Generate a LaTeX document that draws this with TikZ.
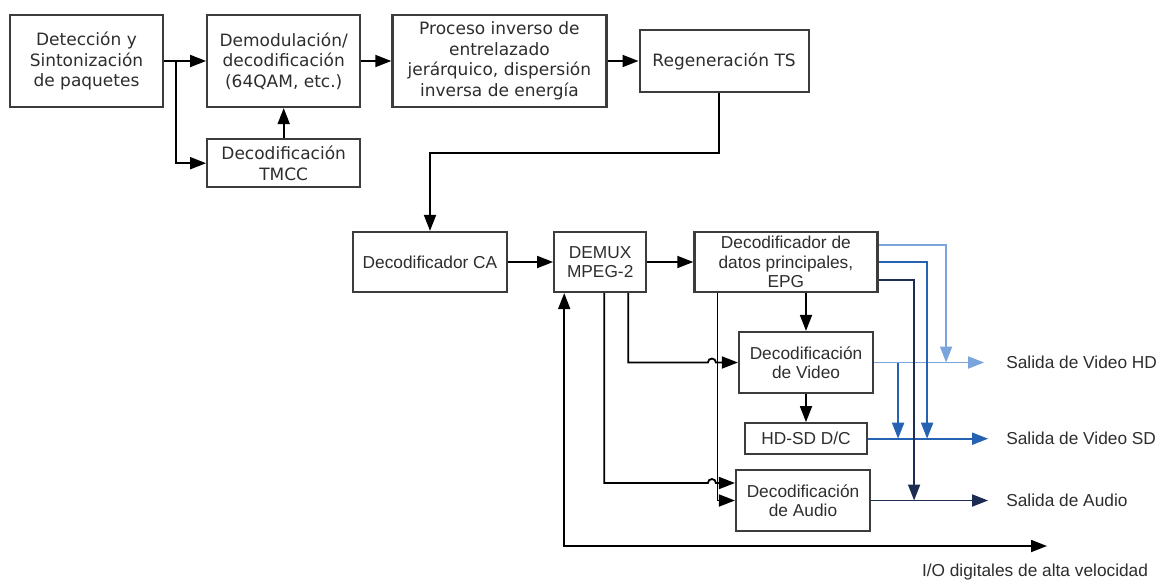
\documentclass[tikz,border=0pt]{standalone}
\usepackage{fontspec}
\usepackage{tikz}
\usetikzlibrary{arrows.meta,positioning,calc}
\newfontfamily\verdfont{DejaVu Sans}
\newfontfamily\arialfont{Liberation Sans}
\definecolor{hdblue}{RGB}{122,164,220}
\definecolor{sdblue}{RGB}{38,98,178}
\definecolor{audnavy}{RGB}{28,44,82}
\definecolor{boxgray}{RGB}{60,60,60}
\definecolor{txtgray}{RGB}{45,45,45}

\begin{document}
\begin{tikzpicture}[x=1pt,y=-1pt,
    topbox/.style={draw=boxgray,line width=2.2pt,align=center,inner sep=0pt,text=txtgray,font=\verdfont\fontsize{17}{20.5}\selectfont},
    lowbox/.style={draw=boxgray,line width=2.2pt,align=center,inner sep=0pt,text=txtgray,font=\arialfont\fontsize{17.3}{19.5}\selectfont},
    arr/.style={-{Triangle[length=16pt,width=12pt]},line width=1.8pt},
    arrboth/.style={{Triangle[length=16pt,width=12pt]}-{Triangle[length=16pt,width=12pt]},line width=1.8pt},
    outlbl/.style={anchor=west,inner sep=0pt,text=txtgray,font=\arialfont\fontsize{17.3}{19.5}\selectfont}
]
\useasboundingbox (0,0) rectangle (1157,581);

% Row 1: reception
\node[topbox,minimum width=153pt,minimum height=92pt] (det) at (86.5,61) {Detección y\\Sintonización\\de paquetes};
\node[topbox,minimum width=153pt,minimum height=92pt,right=42pt of det] (demod) {Demodulación/\\decodificación\\(64QAM, etc.)};
\node[topbox,minimum width=153pt,minimum height=48pt,below=30pt of demod] (tmcc) {Decodificación\\TMCC};
\node[topbox,minimum width=214pt,minimum height=92pt,right=30pt of demod] (proc) {Proceso inverso de\\entrelazado\\jerárquico, dispersión\\inversa de energía};
\node[topbox,minimum width=169pt,minimum height=62pt,right=31pt of proc] (regen) {Regeneración TS};

\coordinate (split) at ($(det.east)+(12,0)$);
\draw[arr] (det) -- (demod);
\draw[arr] (split) |- (tmcc.west);
\draw[arr] (tmcc) -- (demod);
\draw[arr] (demod) -- (proc);
\draw[arr] (proc) -- (regen);

% Row 2: demultiplexing
\node[lowbox,minimum width=154pt,minimum height=60pt] (ca) at (430,262) {Decodificador CA};
\node[lowbox,minimum width=92pt,minimum height=60pt,right=45pt of ca] (demux) {DEMUX\\MPEG-2};
\node[lowbox,minimum width=183pt,minimum height=60pt,right=46pt of demux] (datos) {Decodificador de\\datos principales,\\EPG};

\draw[arr] ([xshift=-5pt]regen.south) -- ++(0,60) -| (ca.north);
\draw[arr] (ca) -- (demux);
\draw[arr] (demux) -- (datos);

% Decoders
\node[lowbox,minimum width=134pt,minimum height=61pt] (video) at (806,362.5) {Decodificación\\de Video};
\node[lowbox,minimum width=122pt,minimum height=31pt,below=28pt of video] (hdsd) {HD-SD D/C};
\node[lowbox,minimum width=134pt,minimum height=61pt] (audio) at (803,500.5) {Decodificación\\de Audio};

\draw[arr] (video.north |- datos.south) -- (video.north);
\draw[arr] (video) -- (hdsd);
\draw[arr] ([xshift=28pt]demux.south) |- ([xshift=-30pt]video.west) arc[start angle=180,end angle=0,radius=4pt] -- (video.west);
\draw[arr] ([xshift=4pt]demux.south) |- ($(audio.west)+(-27,-17.5)$) arc[start angle=180,end angle=0,radius=4pt] -- ([yshift=17.5pt]audio.west);
\draw[arr] ([xshift=-68.5pt]datos.south) |- (audio.west);

% Outputs
\node[outlbl,right=132pt of video] (hdlbl) {Salida de Video HD};
\node[outlbl,right=138pt of hdsd] (sdlbl) {Salida de Video SD};
\node[outlbl,right=135pt of audio] (audlbl) {Salida de Audio};
\node[outlbl,anchor=center] (iolbl) at (1035,572) {I/O digitales de alta velocidad};
\coordinate (iotip) at (1047,546);

\draw[arr,hdblue] (video.east) -- ([xshift=-22pt]hdlbl.west);
\draw[arr,sdblue] ([xshift=24pt]video.east) -- ([xshift=24pt]video.east |- hdsd.east);
\draw[arr,sdblue] (hdsd.east) -- ([xshift=-18pt]sdlbl.west);
\draw[arr,audnavy] (audio.east) -- ([xshift=-18pt]audlbl.west);
\draw[arr,hdblue] ([yshift=17pt]datos.east) -| ([xshift=72pt]video.east);
\draw[arr,sdblue] (datos.east) -| ([xshift=59pt]hdsd.east);
\draw[arr,audnavy] ([yshift=-18pt]datos.east) -| ([xshift=43pt]audio.east);
\draw[arrboth] ([xshift=-36pt]demux.south) |- (iotip);
\end{tikzpicture}
\end{document}
